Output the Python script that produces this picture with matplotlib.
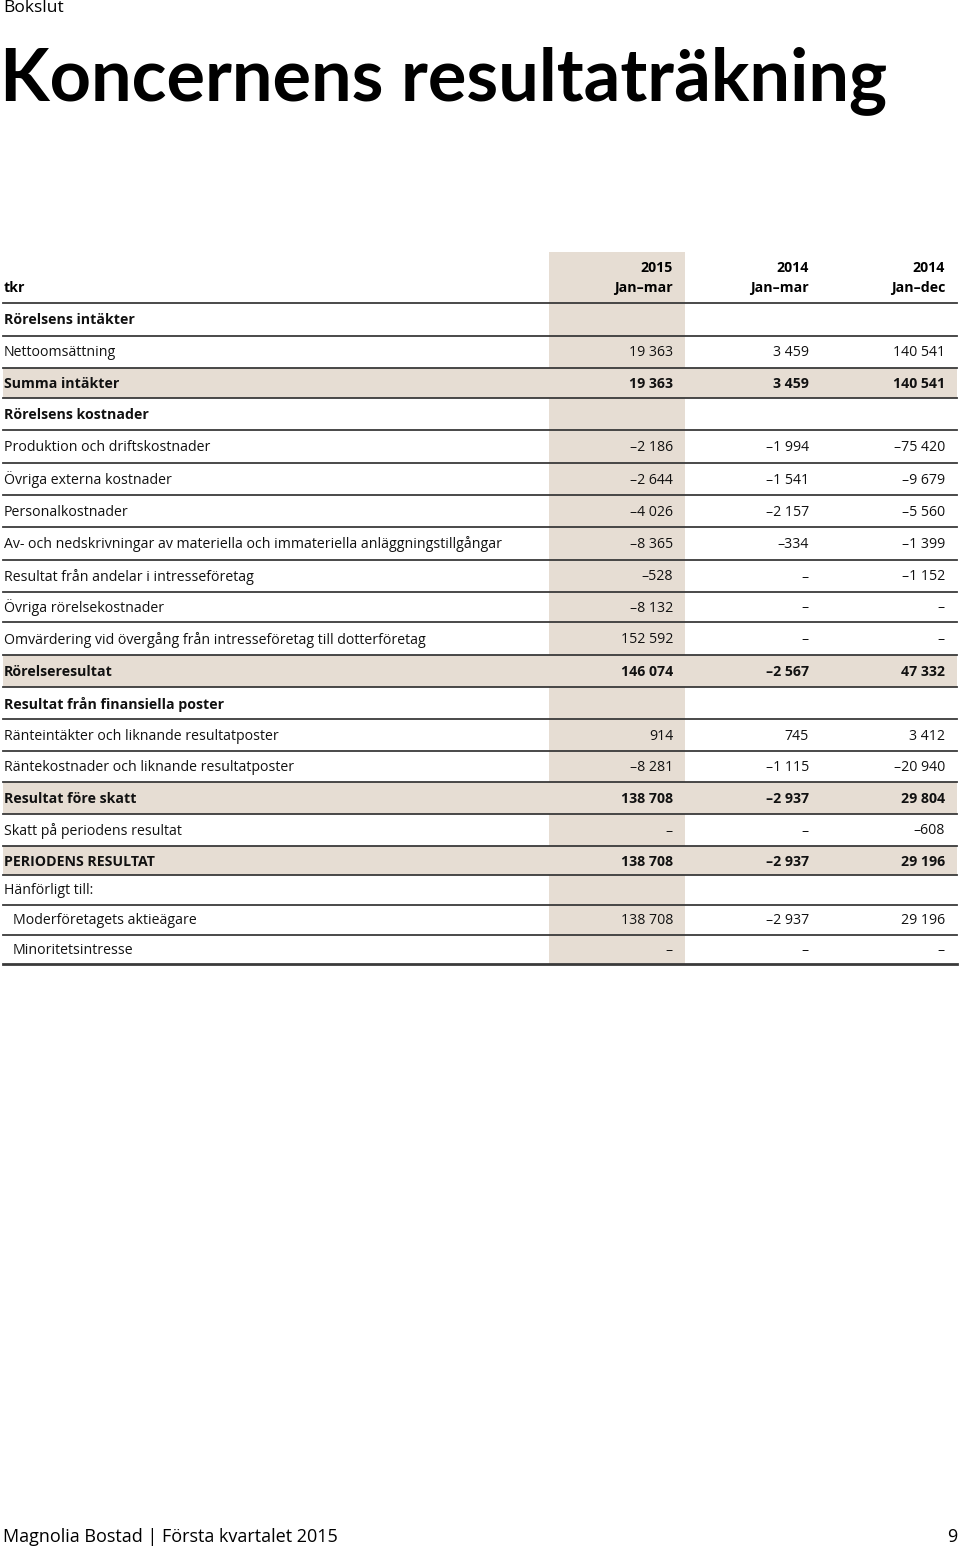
import matplotlib.pyplot as plt
from matplotlib.patches import Rectangle

plt.rcParams['font.family'] = ['Open Sans', 'DejaVu Sans']

# table data (tkr), None = "–"
labels = [
    'Rörelsens intäkter', 'Nettoomsättning', 'Summa intäkter',
    'Rörelsens kostnader', 'Produktion och driftskostnader', 'Övriga externa kostnader',
    'Personalkostnader', 'Av- och nedskrivningar av materiella och immateriella anläggningstillgångar',
    'Resultat från andelar i intresseföretag', 'Övriga rörelsekostnader',
    'Omvärdering vid övergång från intresseföretag till dotterföretag',
    'Rörelseresultat', 'Resultat från finansiella poster',
    'Ränteintäkter och liknande resultatposter', 'Räntekostnader och liknande resultatposter',
    'Resultat före skatt', 'Skatt på periodens resultat', 'PERIODENS RESULTAT',
    'Hänförligt till:', 'Moderföretagets aktieägare', 'Minoritetsintresse',
]
q1_2015 = [None, 19363, 19363, None, -2186, -2644, -4026, -8365, -528, -8132, 152592,
           146074, None, 914, -8281, 138708, None, 138708, None, 138708, None]
q1_2014 = [None, 3459, 3459, None, -1994, -1541, -2157, -334, None, None, None,
           -2567, None, 745, -1115, -2937, None, -2937, None, -2937, None]
fy_2014 = [None, 140541, 140541, None, -75420, -9679, -5560, -1399, -1152, None, None,
           47332, None, 3412, -20940, 29804, -608, 29196, None, 29196, None]
headings = {0, 3, 12, 18}          # rows without values
bold_rows = {0, 2, 3, 11, 12, 15, 17}
shaded_rows = {2, 11, 15, 17}
indented_rows = {19, 20}
col_years = ['2015', '2014', '2014']
col_periods = ['Jan–mar', 'Jan–mar', 'Jan–dec']

# layout in pixels
row_h = [33, 32, 30, 32, 33, 32, 32, 33, 32, 30, 33, 32, 32, 32, 31, 32, 32, 29, 30, 30, 29]
table_top = 303
col_right = [673, 809, 945]
shade = '#e6ddd3'
line_c = '#3a3a3a'
fs = 10.2


def fmt(v, is_heading):
    if is_heading:
        return ''
    if v is None:
        return '–'
    s = f'{abs(v):,}'.replace(',', ' ')
    return ('–' if v < 0 else '') + s


fig = plt.figure(figsize=(9.6, 15.48), dpi=100)
ax = fig.add_axes([0, 0, 1, 1])
ax.set_xlim(0, 960)
ax.set_ylim(1548, 0)
ax.axis('off')

ax.text(3, 8, 'Bokslut', fontsize=12.5, va='center', ha='left')
ax.text(0, 100, 'Koncernens resultaträkning', fontsize=52, fontweight='bold',
        family=['Lato', 'DejaVu Sans'], va='baseline', ha='left')

# shaded current-period column
table_bottom = table_top + sum(row_h)
ax.add_patch(Rectangle((549, 252), 136, table_bottom - 252, color=shade, lw=0, zorder=0))

# header
ax.text(4, 288, 'tkr', fontsize=fs, fontweight='bold', va='center')
for x, yr, per in zip(col_right, col_years, col_periods):
    ax.text(x, 268, yr, fontsize=fs, fontweight='bold', va='center', ha='right')
    ax.text(x, 288, per, fontsize=fs, fontweight='bold', va='center', ha='right')
ax.plot([3, 957], [table_top, table_top], color=line_c, lw=1.3)

y = table_top
for i, lab in enumerate(labels):
    h = row_h[i]
    if i in shaded_rows:
        ax.add_patch(Rectangle((3, y), 954, h, color=shade, lw=0, zorder=0))
    yc = y + h / 2 + 1
    w = 'bold' if i in bold_rows else 'normal'
    x0 = 13 if i in indented_rows else 4
    ax.text(x0, yc, lab, fontsize=fs, fontweight=w, va='center', ha='left', color='#111')
    for x, col in zip(col_right, (q1_2015, q1_2014, fy_2014)):
        ax.text(x, yc, fmt(col[i], i in headings), fontsize=fs, fontweight=w,
                va='center', ha='right', color='#111')
    y += h
    lw = 2.0 if i == len(labels) - 1 else 1.3
    ax.plot([3, 957], [y, y], color=line_c, lw=lw)

ax.text(3, 1537, 'Magnolia Bostad | Första kvartalet 2015', fontsize=13, va='center')
ax.text(957, 1537, '9', fontsize=13, va='center', ha='right')

fig.savefig('out.png', dpi=100)
